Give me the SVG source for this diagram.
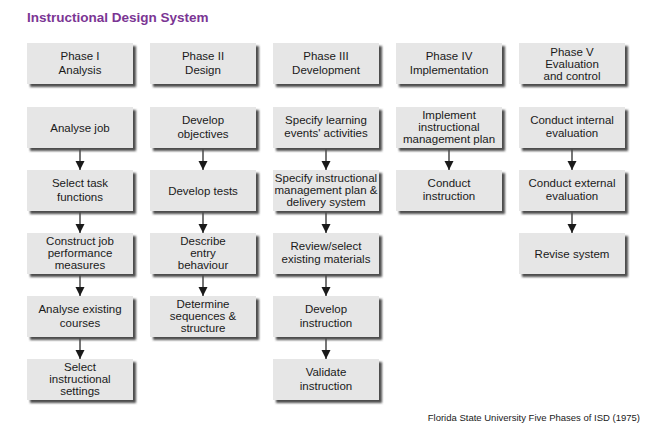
<svg xmlns="http://www.w3.org/2000/svg" width="648" height="432" viewBox="0 0 648 432">
<defs>
<filter id="sh" x="-10%" y="-10%" width="130%" height="140%"><feGaussianBlur stdDeviation="0.8"/></filter>
<marker id="ah" markerWidth="10" markerHeight="10" refX="9" refY="5" orient="auto" markerUnits="userSpaceOnUse"><path d="M0,0.5 L9,5 L0,9.5 Z" fill="#1a1a1a"/></marker>
</defs>
<style>
.b{fill:#e6e6e6}
.s{fill:#4d4d4d;filter:url(#sh)}
.t{font-family:"Liberation Sans",Arial,sans-serif;font-size:11.5px;fill:#1a1a1a;text-anchor:middle}
.c line{stroke:#1a1a1a;stroke-width:1.2;marker-end:url(#ah)}
.title{font-family:"Liberation Sans",Arial,sans-serif;font-size:13.5px;font-weight:bold;fill:#7b3594}
.foot{font-family:"Liberation Sans",Arial,sans-serif;font-size:9.5px;fill:#1a1a1a;text-anchor:end}
</style>
<rect width="648" height="432" fill="#ffffff"/>
<text class="title" x="27" y="22">Instructional Design System</text>

<g class="c">
<line x1="80" y1="148" x2="80" y2="170"/>
<line x1="80" y1="211" x2="80" y2="233"/>
<line x1="80" y1="274" x2="80" y2="296"/>
<line x1="80" y1="337" x2="80" y2="359"/>
<line x1="203" y1="148" x2="203" y2="170"/>
<line x1="203" y1="211" x2="203" y2="233"/>
<line x1="203" y1="274" x2="203" y2="296"/>
<line x1="326" y1="148" x2="326" y2="170"/>
<line x1="326" y1="211" x2="326" y2="233"/>
<line x1="326" y1="274" x2="326" y2="296"/>
<line x1="326" y1="337" x2="326" y2="359"/>
<line x1="449" y1="148" x2="449" y2="170"/>
<line x1="572" y1="148" x2="572" y2="170"/>
<line x1="572" y1="211" x2="572" y2="233"/>
</g>

<g id="h1"><rect class="s" x="30" y="46" width="106" height="41"/><rect class="b" x="27" y="43" width="106" height="41"/><text class="t" x="80" y="60">Phase I</text><text class="t" x="80" y="74">Analysis</text></g>
<g id="h2"><rect class="s" x="153" y="46" width="106" height="41"/><rect class="b" x="150" y="43" width="106" height="41"/><text class="t" x="203" y="60">Phase II</text><text class="t" x="203" y="74">Design</text></g>
<g id="h3"><rect class="s" x="276" y="46" width="106" height="41"/><rect class="b" x="273" y="43" width="106" height="41"/><text class="t" x="326" y="60">Phase III</text><text class="t" x="326" y="74">Development</text></g>
<g id="h4"><rect class="s" x="399" y="46" width="106" height="41"/><rect class="b" x="396" y="43" width="106" height="41"/><text class="t" x="449" y="60">Phase IV</text><text class="t" x="449" y="74">Implementation</text></g>
<g id="h5"><rect class="s" x="522" y="46" width="106" height="41"/><rect class="b" x="519" y="43" width="106" height="41"/><text class="t" x="572" y="55.5">Phase V</text><text class="t" x="572" y="67.5">Evaluation</text><text class="t" x="572" y="79.5">and control</text></g>

<g id="a1"><rect class="s" x="30" y="110" width="106" height="41"/><rect class="b" x="27" y="107" width="106" height="41"/><text class="t" x="80" y="131.5">Analyse job</text></g>
<g id="a2"><rect class="s" x="30" y="173" width="106" height="41"/><rect class="b" x="27" y="170" width="106" height="41"/><text class="t" x="80" y="187">Select task</text><text class="t" x="80" y="201">functions</text></g>
<g id="a3"><rect class="s" x="30" y="236" width="106" height="41"/><rect class="b" x="27" y="233" width="106" height="41"/><text class="t" x="80" y="244.5">Construct job</text><text class="t" x="80" y="256.8">performance</text><text class="t" x="80" y="269.1">measures</text></g>
<g id="a4"><rect class="s" x="30" y="299" width="106" height="41"/><rect class="b" x="27" y="296" width="106" height="41"/><text class="t" x="80" y="313">Analyse existing</text><text class="t" x="80" y="327">courses</text></g>
<g id="a5"><rect class="s" x="30" y="362" width="106" height="41"/><rect class="b" x="27" y="359" width="106" height="41"/><text class="t" x="80" y="370.5">Select</text><text class="t" x="80" y="382.8">instructional</text><text class="t" x="80" y="395.1">settings</text></g>

<g id="b1"><rect class="s" x="153" y="110" width="106" height="41"/><rect class="b" x="150" y="107" width="106" height="41"/><text class="t" x="203" y="124">Develop</text><text class="t" x="203" y="138">objectives</text></g>
<g id="b2"><rect class="s" x="153" y="173" width="106" height="41"/><rect class="b" x="150" y="170" width="106" height="41"/><text class="t" x="203" y="194.5">Develop tests</text></g>
<g id="b3"><rect class="s" x="153" y="236" width="106" height="41"/><rect class="b" x="150" y="233" width="106" height="41"/><text class="t" x="203" y="244.5">Describe</text><text class="t" x="203" y="256.8">entry</text><text class="t" x="203" y="269.1">behaviour</text></g>
<g id="b4"><rect class="s" x="153" y="299" width="106" height="41"/><rect class="b" x="150" y="296" width="106" height="41"/><text class="t" x="203" y="307.5">Determine</text><text class="t" x="203" y="319.8">sequences &amp;</text><text class="t" x="203" y="332.1">structure</text></g>

<g id="c1"><rect class="s" x="276" y="110" width="106" height="41"/><rect class="b" x="273" y="107" width="106" height="41"/><text class="t" x="326" y="124">Specify learning</text><text class="t" x="326" y="137">events' activities</text></g>
<g id="c2"><rect class="s" x="276" y="173" width="106" height="41"/><rect class="b" x="273" y="170" width="106" height="41"/><text class="t" x="326" y="181.5">Specify instructional</text><text class="t" x="326" y="193.8">management plan &amp;</text><text class="t" x="326" y="206.1">delivery system</text></g>
<g id="c3"><rect class="s" x="276" y="236" width="106" height="41"/><rect class="b" x="273" y="233" width="106" height="41"/><text class="t" x="326" y="250">Review/select</text><text class="t" x="326" y="263">existing materials</text></g>
<g id="c4"><rect class="s" x="276" y="299" width="106" height="41"/><rect class="b" x="273" y="296" width="106" height="41"/><text class="t" x="326" y="313">Develop</text><text class="t" x="326" y="327">instruction</text></g>
<g id="c5"><rect class="s" x="276" y="362" width="106" height="41"/><rect class="b" x="273" y="359" width="106" height="41"/><text class="t" x="326" y="376">Validate</text><text class="t" x="326" y="390">instruction</text></g>

<g id="d1"><rect class="s" x="399" y="110" width="106" height="41"/><rect class="b" x="396" y="107" width="106" height="41"/><text class="t" x="449" y="118.5">Implement</text><text class="t" x="449" y="130.8">instructional</text><text class="t" x="449" y="143.1">management plan</text></g>
<g id="d2"><rect class="s" x="399" y="173" width="106" height="41"/><rect class="b" x="396" y="170" width="106" height="41"/><text class="t" x="449" y="187">Conduct</text><text class="t" x="449" y="200">instruction</text></g>

<g id="e1"><rect class="s" x="522" y="110" width="106" height="41"/><rect class="b" x="519" y="107" width="106" height="41"/><text class="t" x="572" y="124">Conduct internal</text><text class="t" x="572" y="137">evaluation</text></g>
<g id="e2"><rect class="s" x="522" y="173" width="106" height="41"/><rect class="b" x="519" y="170" width="106" height="41"/><text class="t" x="572" y="187">Conduct external</text><text class="t" x="572" y="200">evaluation</text></g>
<g id="e3"><rect class="s" x="522" y="236" width="106" height="41"/><rect class="b" x="519" y="233" width="106" height="41"/><text class="t" x="572" y="257.5">Revise system</text></g>

<text class="foot" x="640" y="421">Florida State University Five Phases of ISD (1975)</text>
</svg>
